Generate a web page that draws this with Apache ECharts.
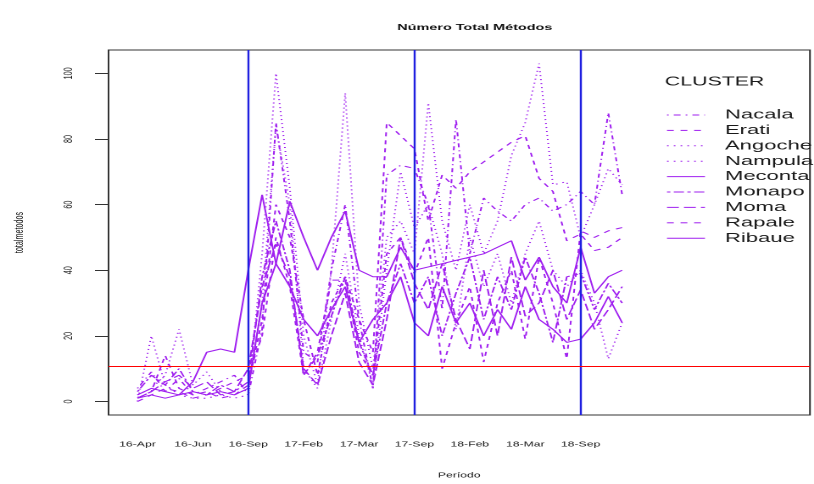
<!DOCTYPE html>
<html>
<head>
<meta charset="utf-8">
<script src="https://cdn.jsdelivr.net/npm/echarts@6/dist/echarts.min.js"></script>
<style>
html,body{margin:0;padding:0;background:#fff;overflow:hidden;width:814px;height:484px}
#c{width:480px;height:484px;transform:scaleX(1.695833);transform-origin:0 0}
</style>
</head>
<body>
<div id="c"></div>
<script>
const categories = ["16-Apr","16-Aug","16-Dec","16-Jul","16-Jun","16-May","16-Nov","16-Oct","16-Sep",
  "17-Apr","17-Aug","17-Dec","17-Feb","17-Jan","17-Jul","17-Jun","17-Mar","17-May","17-Nov","17-Oct","17-Sep",
  "18-Apr","18-Aug","18-Dec","18-Feb","18-Jan","18-Jul","18-Jun","18-Mar","18-May","18-Nov","18-Oct","18-Sep",
  "19-Feb","19-Jan","19-Mar"];
const shownLabelIdx = [0,4,8,12,16,20,24,28,32];
const yTicks = [0,20,40,60,80,100];
const clusters = ["Nacala","Erati","Angoche","Nampula","Meconta","Monapo","Moma","Rapale","Ribaue"];

const nacala  = [4,9,3,7,2,4,6,8,2,22,85,55,15,12,40,60,25,4,69,72,71,60,28,86,45,62,58,55,60,62,58,60,64,60,88,63];
const erati   = [1,3,14,4,2,3,1,2,5,25,60,50,25,8,30,38,25,15,85,81,77,55,69,65,70,73,76,79,81,68,64,49,51,46,47,50];
const angoche = [0,20,5,2,1,1,2,1,2,45,100,65,20,5,40,94,30,10,50,55,45,91,55,40,60,45,55,75,85,103,66,67,50,60,71,66];
const nampula = [2,4,8,22,5,9,3,2,4,30,84,60,10,4,25,45,20,5,40,70,53,60,45,22,50,35,45,30,45,55,40,35,40,30,13,24];
const meconta = [1,2,1,2,3,2,3,2,4,30,42,61,50,40,50,58,40,38,38,47,40,41,42,43,44,45,47,49,37,44,35,30,47,33,38,40];
const monapo  = [3,8,5,10,3,2,5,3,6,38,55,40,8,14,26,38,18,8,30,42,30,38,20,33,44,25,38,28,44,33,18,38,39,28,36,30];
const moma    = [1,3,6,8,4,6,2,3,10,35,48,38,10,5,20,33,12,5,25,50,36,28,42,25,16,40,20,44,26,30,40,25,34,22,28,35];
const rapale  = [0,2,4,3,1,2,4,6,8,20,50,35,8,15,37,37,15,8,45,50,39,50,10,24,35,12,30,40,19,44,30,13,52,50,52,53];
const ribaue  = [2,4,3,2,6,15,16,15,40,63,42,35,25,20,28,35,18,25,30,38,24,20,35,24,30,20,28,22,35,25,22,18,19,24,32,24];

const seriesValues = [nacala,erati,angoche,nampula,meconta,monapo,moma,rapale,ribaue];
const dashTypes = [[1,3,4,3],[4,4],[1,3],[1,3],'solid',[2,2,6,2],[7,3],[4,4],'solid'];
const refVertical = [8,20,32];
const refHorizontal = 10.6;

const purple = '#a020f0';
const font = 'Liberation Sans, Arial, sans-serif';

const series = clusters.map((name,k)=>({
  name, type:'line', symbol:'none', showSymbol:false, animation:false,
  data: seriesValues[k].map((v,i)=>[i,v]),
  lineStyle:{color:purple,width:1,type:dashTypes[k]},
  itemStyle:{color:purple}, emphasis:{disabled:true}, z:2
}));
series.push({
  name:'vref', type:'line', data:[], silent:true, animation:false, z:3,
  markLine:{symbol:'none', silent:true, animation:false, label:{show:false},
    lineStyle:{color:'#1f1fe0',width:1.2,type:'solid'},
    emphasis:{disabled:true},
    data: refVertical.map(x=>({xAxis:x}))}
});
series.push({
  name:'href', type:'line', data:[], silent:true, animation:false, z:3,
  markLine:{symbol:'none', silent:true, animation:false, label:{show:false},
    lineStyle:{color:'#ff0000',width:1,type:'solid'},
    emphasis:{disabled:true},
    data:[{yAxis:refHorizontal}]}
});

// legend drawn as graphic (R-style)
const legendGraphic = [{type:'text', x:392, y:82,
  style:{text:'CLUSTER', fontFamily:font, fontSize:12.6, fill:'#1a1a1a', verticalAlign:'middle'}}];
clusters.forEach((name,k)=>{
  const y = 115 + 15.4*k;
  const d = dashTypes[k];
  legendGraphic.push({type:'line', shape:{x1:393.3,y1:y,x2:415.7,y2:y},
    style:{stroke:purple, lineWidth:1, lineDash: d==='solid'?null:d}});
  legendGraphic.push({type:'text', x:427.5, y:y,
    style:{text:name, fontFamily:font, fontSize:13, fill:'#1a1a1a', verticalAlign:'middle'}});
});

const chart = echarts.init(document.getElementById('c'),null,{renderer:'canvas',devicePixelRatio:2});
chart.setOption({
  animation:false,
  backgroundColor:'#fff',
  title:{text:'Número Total Métodos', left:275, top:18, textAlign:'center',
    textStyle:{fontFamily:font,fontSize:8.5,fontWeight:'bold',color:'#111'}},
  grid:{left:63.1,right:2.4,top:50,bottom:64,show:true,borderColor:'#333',borderWidth:1,containLabel:false},
  xAxis:{type:'value',min:-2.09,max:48.56,
    name:'Período',nameLocation:'middle',nameGap:57,
    nameTextStyle:{fontFamily:font,fontSize:7.2,color:'#1a1a1a'},
    axisLine:{show:false,onZero:false},axisTick:{show:false},splitLine:{show:false},
    axisLabel:{customValues:shownLabelIdx,formatter:v=>categories[v],margin:26,
      fontFamily:font,fontSize:7.2,color:'#1a1a1a'}},
  yAxis:{type:'value',min:-4.12,max:107.12,
    name:'totalmetodos',nameLocation:'middle',nameGap:49,nameRotate:90,
    nameTextStyle:{fontFamily:font,fontSize:7.2,color:'#1a1a1a'},
    axisLine:{show:false,onZero:false},splitLine:{show:false},
    axisTick:{show:true,customValues:yTicks,length:8,lineStyle:{color:'#333'}},
    axisLabel:{customValues:yTicks,rotate:90,margin:20,fontFamily:font,fontSize:7.2,color:'#1a1a1a'}},
  graphic:legendGraphic,
  series
});
</script>
</body>
</html>
